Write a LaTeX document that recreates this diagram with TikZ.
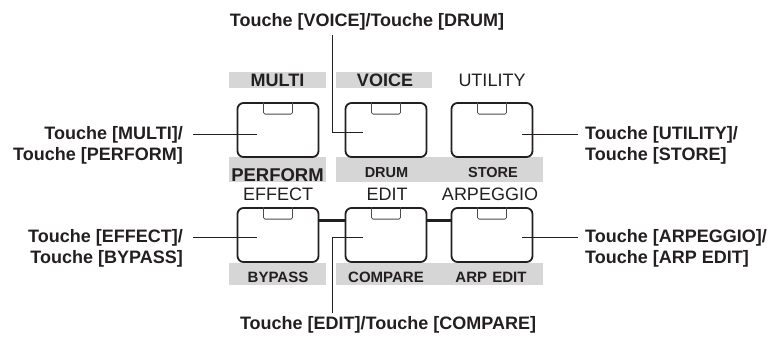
\documentclass[tikz,border=0pt]{standalone}
\usepackage{fontspec}
\setmainfont{Liberation Sans}
\usetikzlibrary{calc}
\definecolor{bargray}{gray}{0.84}
\definecolor{ink}{HTML}{231F20}
\definecolor{notchink}{HTML}{4A4A4A}

\begin{document}
\begin{tikzpicture}[x=1bp,y=-1bp,
  key/.style={draw=ink, line width=1.8bp, rounded corners=6bp,
    minimum width=81bp, minimum height=54bp, inner sep=0pt},
  notch/.style={draw=notchink, line width=0.8bp, rounded corners=1.5bp},
  link/.style={draw=ink, line width=3bp},
  lead/.style={draw=ink, line width=0.9bp},
  callout/.style={font=\fontsize{18bp}{21bp}\selectfont\bfseries, text=ink, inner sep=0pt},
  capbold/.style={font=\fontsize{18bp}{20bp}\selectfont\bfseries, text=ink, inner sep=0pt, anchor=base},
  capreg/.style={font=\fontsize{18bp}{20bp}\selectfont, text=ink, inner sep=0pt, anchor=base},
  capbig/.style={font=\fontsize{18.5bp}{21bp}\selectfont\bfseries, text=ink, inner sep=0pt, anchor=base},
  subsmall/.style={font=\fontsize{14.5bp}{16bp}\selectfont\bfseries, text=ink, inner sep=0pt, anchor=base},
  sublarge/.style={font=\fontsize{15bp}{17bp}\selectfont\bfseries, text=ink, inner sep=0pt, anchor=base}
]
\useasboundingbox (0,0) rectangle (773,341);

% grey label bands
\fill[bargray] (229,72) rectangle (326,88);
\fill[bargray] (336,72) rectangle (432,88);
\fill[bargray] (229,157) rectangle (326,182);
\fill[bargray] (336,157) rectangle (543,182);
\fill[bargray] (229,263) rectangle (326,285);
\fill[bargray] (336,263) rectangle (543,285);

% panel captions
\node[capbold] (tMulti) at (277.5,86.5) {MULTI};
\node[capbold] (tVoice) at (385,86.5) {VOICE};
\node[capreg]  (tUtil)  at (492,86.5) {UTILITY};
\node[capbig]  (tPerf)  at (277.5,181) {PERFORM};
\node[subsmall] (tDrum)  at (386.5,177) {DRUM};
\node[subsmall] (tStore) at (493,177) {STORE};
\node[capreg]  (tEffect) at (278,200) {EFFECT};
\node[capreg]  (tEdit)   at (387,200) {EDIT};
\node[capreg]  (tArp)    at (490,200) {ARPEGGIO};
\node[sublarge] (tBypass)  at (278,282) {BYPASS};
\node[sublarge] (tCompare) at (386,282) {COMPARE};
\node[sublarge] (tArpEdit) at (491,282) {ARP\hspace{0.35em}EDIT};

% buttons
\node[key] (bMulti)  at (278,130) {};
\node[key] (bVoice)  at (386,130) {};
\node[key] (bUtil)   at (492,130) {};
\node[key] (bEffect) at (278,235) {};
\node[key] (bEdit)   at (386,235) {};
\node[key] (bArp)    at (492,235) {};

% LED windows on the buttons
\foreach \b in {bMulti,bVoice,bUtil,bEffect,bEdit,bArp}{
  \draw[notch] ($(\b.north)+(-14.5,0)$) -- ++(0,12) -- ++(29,0) -- ++(0,-12);
}

% links between the lower buttons
\draw[link] ($(bEffect.east)+(0,-15)$) -- ($(bEdit.west)+(0,-15)$);
\draw[link] ($(bEdit.east)+(0,-15)$) -- ($(bArp.west)+(0,-15)$);

% callout texts
\node[callout, anchor=base] (lVoice) at (367,26) {Touche [VOICE]/Touche [DRUM]};
\node[callout, anchor=base] (lEdit) at (388,329) {Touche [EDIT]/Touche [COMPARE]};
\node[callout, anchor=base east] (lMultiA) at (183,139) {Touche [MULTI]/};
\node[callout, anchor=base east] (lMultiB) at (183,160) {Touche [PERFORM]};
\node[callout, anchor=base east] (lEffectA) at (183,242) {Touche [EFFECT]/};
\node[callout, anchor=base east] (lEffectB) at (183,263) {Touche [BYPASS]};
\node[callout, anchor=base west] (lUtilA) at (585,139) {Touche [UTILITY]/};
\node[callout, anchor=base west] (lUtilB) at (585,160) {Touche [STORE]};
\node[callout, anchor=base west] (lArpA) at (585,242) {Touche [ARPEGGIO]/};
\node[callout, anchor=base west] (lArpB) at (585,263) {Touche [ARP EDIT]};

% leader lines
\draw[lead] ($(lMultiA.east)+(10,0)$) -- ($(lMultiA.east -| bMulti.west)+(20,0)$);
\draw[lead] ($(lEffectA.east)+(10,0)$) -- ($(lEffectA.east -| bEffect.west)+(20,0)$);
\draw[lead] ($(lUtilA.west)+(-7,0)$) -- ($(lUtilA.west -| bUtil.east)+(-11,0)$);
\draw[lead] ($(lArpA.west)+(-7,0)$) -- ($(lArpA.west -| bArp.east)+(-11,0)$);
\draw[lead] ($(bVoice.west |- lVoice.south)+(-12,5)$) -- ($(bVoice.west)+(-12,2)$) -- ($(bVoice.west)+(18,2)$);
\draw[lead] ($(bEdit.west)+(18,2)$) -- ($(bEdit.west)+(-12,2)$) -- ($(bEdit.west |- lEdit.north)+(-12,-3)$);
\end{tikzpicture}
\end{document}
